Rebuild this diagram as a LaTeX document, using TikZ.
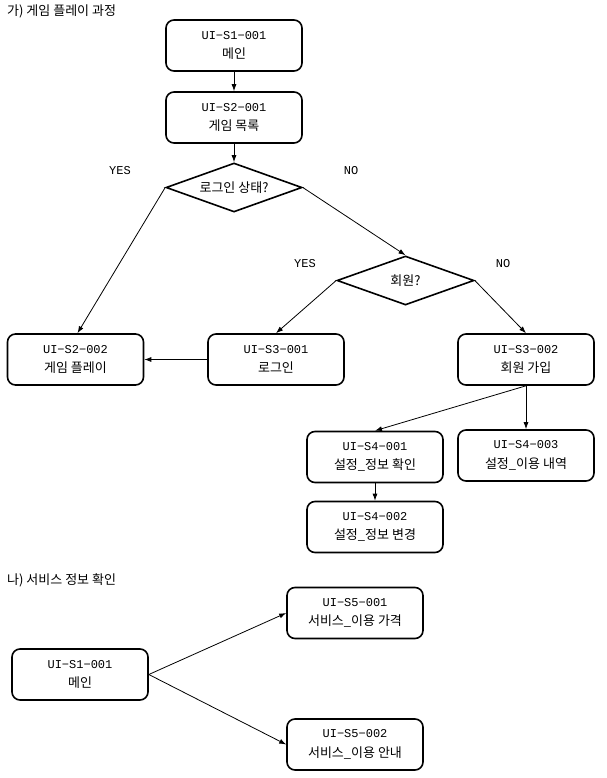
\documentclass[tikz,border=0pt]{standalone}
\usepackage{fontspec}
\setmainfont{Noto Sans CJK KR}
\newfontfamily\lat{Liberation Mono}
\usetikzlibrary{shapes.geometric,arrows.meta}
\tikzset{
  box/.style={draw, line width=1.6pt, rounded corners=8pt, minimum width=136pt, minimum height=51pt, inner sep=0pt, align=center, font=\fontsize{13}{19.5}\selectfont},
  dia/.style={draw, diamond, line width=1.6pt, inner sep=0pt, aspect=2.8, font=\fontsize{13}{14}\selectfont},
  arr/.style={-{Latex[length=7pt,width=5pt]}, line width=0.8pt},
  lbl/.style={font=\lat\fontsize{12}{14}\selectfont, inner sep=0pt},
  ttl/.style={font=\fontsize{13}{14}\selectfont, anchor=west, inner sep=0pt}
}
\newcommand{\uid}[1]{{\lat\fontsize{12}{19.5}\selectfont UI−S#1}}
\begin{document}
\begin{tikzpicture}[x=1pt,y=-1pt]
\useasboundingbox (0,0) rectangle (606,778);
\node[ttl] (t1) at (7,11) {가) 게임 플레이 과정};
\node[box] (s11) at (234,45.5) {\uid{1−001}\\메인};
\node[box] (s21) at (234,117.5) {\uid{2−001}\\게임 목록};
\node[dia, minimum width=136pt, minimum height=49pt] (d1) at (234,187.5) {로그인 상태?};
\node[lbl] (y1) at (120,171) {YES};
\node[lbl] (n1) at (351,171) {NO};
\node[dia, minimum width=137pt, minimum height=49pt] (d2) at (405.5,280.5) {회원?};
\node[lbl] (y2) at (305,264) {YES};
\node[lbl] (n2) at (503,264) {NO};
\node[box] (s22) at (75.5,359.5) {\uid{2−002}\\게임 플레이};
\node[box] (s31) at (276,359.5) {\uid{3−001}\\로그인};
\node[box] (s32) at (526,359.5) {\uid{3−002}\\회원 가입};
\node[box] (s41) at (375,457) {\uid{4−001}\\설정\_정보 확인};
\node[box] (s43) at (526,455.5) {\uid{4−003}\\설정\_이용 내역};
\node[box] (s42) at (375,527) {\uid{4−002}\\설정\_정보 변경};
\draw[arr] (s11.south) -- (s21.north);
\draw[arr] (s21.south) -- (d1.north);
\draw[arr] (d1.west) -- ([xshift=2pt]s22.north);
\draw[arr] (d1.east) -- (d2.north);
\draw[arr] (d2.west) -- (s31.north);
\draw[arr] (d2.east) -- (s32.north);
\draw[arr] (s31.west) -- (s22.east);
\draw[arr] (s32.south) -- (s41.north);
\draw[arr] (s32.south) -- (s43.north);
\draw[arr] (s41.south) -- (s42.north);
\node[ttl] (t2) at (7,580) {나) 서비스 정보 확인};
\node[box] (m) at (80,674.5) {\uid{1−001}\\메인};
\node[box] (s51) at (355,613) {\uid{5−001}\\서비스\_이용 가격};
\node[box] (s52) at (355,744.5) {\uid{5−002}\\서비스\_이용 안내};
\draw[arr] (m.east) -- (s51.west);
\draw[arr] (m.east) -- (s52.west);
\end{tikzpicture}
\end{document}
